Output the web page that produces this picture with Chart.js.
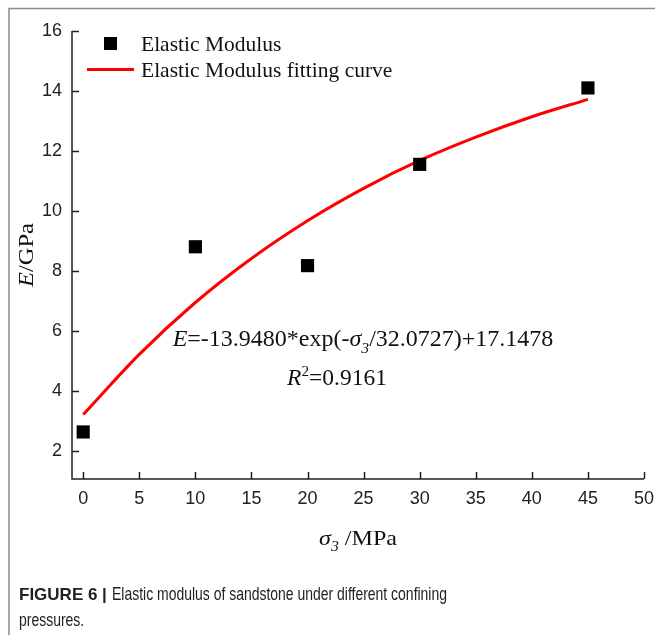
<!DOCTYPE html>
<html>
<head>
<meta charset="utf-8">
<script src="https://cdn.jsdelivr.net/npm/chart.js@4/dist/chart.umd.min.js"></script>
<style>
  html, body { margin: 0; padding: 0; background: #fff; }
  #wrap { width: 655px; height: 635px; position: relative; }
</style>
</head>
<body>
<div id="wrap"><canvas id="myChart" width="655" height="635"></canvas></div>
<script>
// confining pressure (MPa) and measured elastic modulus (GPa)
const pressures = [0, 10, 20, 30, 45];
const modulus = [2.62, 8.8, 8.17, 11.55, 14.1];

// fitted curve, sampled every 5 MPa
const fitPressures = [0, 5, 10, 15, 20, 25, 30, 35, 40, 45];
const fitModulus = [3.2, 5.21, 6.94, 8.41, 9.67, 10.75, 11.68, 12.46, 13.14, 13.72];

const xTicks = [0, 5, 10, 15, 20, 25, 30, 35, 40, 45, 50];
const yTicks = [2, 4, 6, 8, 10, 12, 14, 16];

const serif = '"Liberation Serif", "Times New Roman", serif';
const sans = '"Liberation Sans", Arial, sans-serif';

// draws text pieces in a row: italic / subscript / superscript
function fontFor(p, size) {
    const s = p.sub || p.sup ? size * 0.65 : size;
    return (p.italic ? 'italic ' : '') + s + 'px ' + serif;
}
function richWidth(ctx, parts, size) {
    let total = 0;
    parts.forEach(p => { ctx.font = fontFor(p, size); total += ctx.measureText(p.t).width; });
    return total;
}
function drawRich(ctx, parts, x, y, size, align) {
    const total = richWidth(ctx, parts, size);
    let cx = align === 'center' ? x - total / 2 : x;
    parts.forEach(p => {
        ctx.font = fontFor(p, size);
        let dy = 0;
        if (p.sub) dy = size * 0.28;
        if (p.sup) dy = -size * 0.38;
        ctx.fillText(p.t, cx, y + dy);
        cx += ctx.measureText(p.t).width;
    });
}
// same, stretched/squeezed so the whole run is `width` px long
function drawRichFit(ctx, parts, x, y, size, width) {
    const total = richWidth(ctx, parts, size);
    ctx.save();
    ctx.translate(x - width / 2, y);
    ctx.scale(width / total, 1);
    drawRich(ctx, parts, 0, 0, size, 'left');
    ctx.restore();
}

const decorations = {
    id: 'decorations',
    afterDraw(chart) {
        const ctx = chart.ctx;
        const xs = chart.scales.x, ys = chart.scales.y;
        const area = chart.chartArea;
        ctx.save();

        // figure frame
        ctx.strokeStyle = '#8a8a8a';
        ctx.lineWidth = 1.5;
        ctx.beginPath();
        ctx.moveTo(9, 640);
        ctx.lineTo(9, 8.5);
        ctx.lineTo(660, 8.5);
        ctx.stroke();

        // axes with inward ticks
        ctx.strokeStyle = '#222';
        ctx.lineWidth = 1.5;
        ctx.beginPath();
        ctx.moveTo(area.left, ys.getPixelForValue(16));
        ctx.lineTo(area.left, area.bottom);
        ctx.lineTo(area.right, area.bottom);
        ctx.stroke();
        ctx.beginPath();
        yTicks.forEach(v => {
            const py = Math.round(ys.getPixelForValue(v)) + 0.5;
            ctx.moveTo(area.left, py);
            ctx.lineTo(area.left + 7, py);
        });
        xTicks.forEach(v => {
            const px = Math.round(xs.getPixelForValue(v)) + 0.5;
            ctx.moveTo(px, area.bottom);
            ctx.lineTo(px, area.bottom - 7);
        });
        ctx.stroke();

        // tick labels
        ctx.fillStyle = '#222';
        ctx.font = '18px ' + sans;
        ctx.textAlign = 'right';
        ctx.textBaseline = 'middle';
        yTicks.forEach(v => ctx.fillText(String(v), area.left - 10, ys.getPixelForValue(v)));
        ctx.textAlign = 'center';
        ctx.textBaseline = 'top';
        xTicks.forEach(v => ctx.fillText(String(v), xs.getPixelForValue(v), area.bottom + 11));

        // axis titles
        ctx.fillStyle = '#111';
        ctx.textAlign = 'left';
        ctx.textBaseline = 'alphabetic';
        drawRichFit(ctx, [{ t: 'σ', italic: true }, { t: '3', italic: true, sub: true }, { t: ' /MPa' }], 358, 545, 22, 78);
        ctx.save();
        ctx.translate(33, 255);
        ctx.rotate(-Math.PI / 2);
        drawRichFit(ctx, [{ t: 'E', italic: true }, { t: '/GPa' }], 0, 0, 21, 64);
        ctx.restore();

        // legend
        ctx.fillStyle = '#000';
        ctx.fillRect(104, 37, 13, 13);
        ctx.strokeStyle = '#ff0000';
        ctx.lineWidth = 3;
        ctx.beginPath();
        ctx.moveTo(87, 69.5);
        ctx.lineTo(134, 69.5);
        ctx.stroke();
        ctx.fillStyle = '#111';
        ctx.font = '21.5px ' + serif;
        ctx.fillText('Elastic Modulus', 141, 51);
        ctx.fillText('Elastic Modulus fitting curve', 141, 77);

        // fitted equation
        drawRich(ctx, [
            { t: 'E', italic: true }, { t: '=-13.9480*exp(-' },
            { t: 'σ', italic: true }, { t: '3', italic: true, sub: true },
            { t: '/32.0727)+17.1478' }
        ], 363, 346, 24, 'center');
        drawRich(ctx, [
            { t: 'R', italic: true }, { t: '2', sup: true }, { t: '=0.9161' }
        ], 337, 385, 23.5, 'center');

        // caption: bold label, then body text squeezed to a narrow face
        ctx.fillStyle = '#222';
        ctx.font = 'bold 17px ' + sans;
        ctx.fillText('FIGURE 6 |', 19, 600);
        const line1 = 'Elastic modulus of sandstone under different confining';
        ctx.font = '18.5px ' + sans;
        const k = 335 / ctx.measureText(line1).width;
        ctx.save();
        ctx.scale(k, 1);
        ctx.fillText(line1, 112 / k, 600);
        ctx.fillText('pressures.', 19 / k, 626);
        ctx.restore();

        ctx.restore();
    }
};

const ctx = document.getElementById('myChart');
const myChart = new Chart(ctx, {
    type: 'scatter',
    data: {
        datasets: [{
            label: 'Elastic Modulus',
            data: pressures.map((p, i) => ({ x: p, y: modulus[i] })),
            pointStyle: 'rect',
            pointRadius: 9.3,
            backgroundColor: '#000',
            borderWidth: 0
        }, {
            label: 'Elastic Modulus fitting curve',
            data: fitPressures.map((p, i) => ({ x: p, y: fitModulus[i] })),
            showLine: true,
            borderColor: '#ff0000',
            borderWidth: 3,
            pointRadius: 0,
            cubicInterpolationMode: 'monotone'
        }]
    },
    options: {
        responsive: false,
        animation: false,
        layout: { padding: { left: 72, right: 11, top: 31, bottom: 156 } },
        plugins: { legend: { display: false }, tooltip: { enabled: false } },
        scales: {
            x: {
                type: 'linear', min: -1, max: 50,
                ticks: { display: false },
                grid: { display: false },
                border: { display: false },
                afterFit: s => { s.height = 0; }
            },
            y: {
                type: 'linear', min: 1.05, max: 16,
                ticks: { display: false },
                grid: { display: false },
                border: { display: false },
                afterFit: s => { s.width = 0; }
            }
        }
    },
    plugins: [decorations]
});
</script>
</body>
</html>
